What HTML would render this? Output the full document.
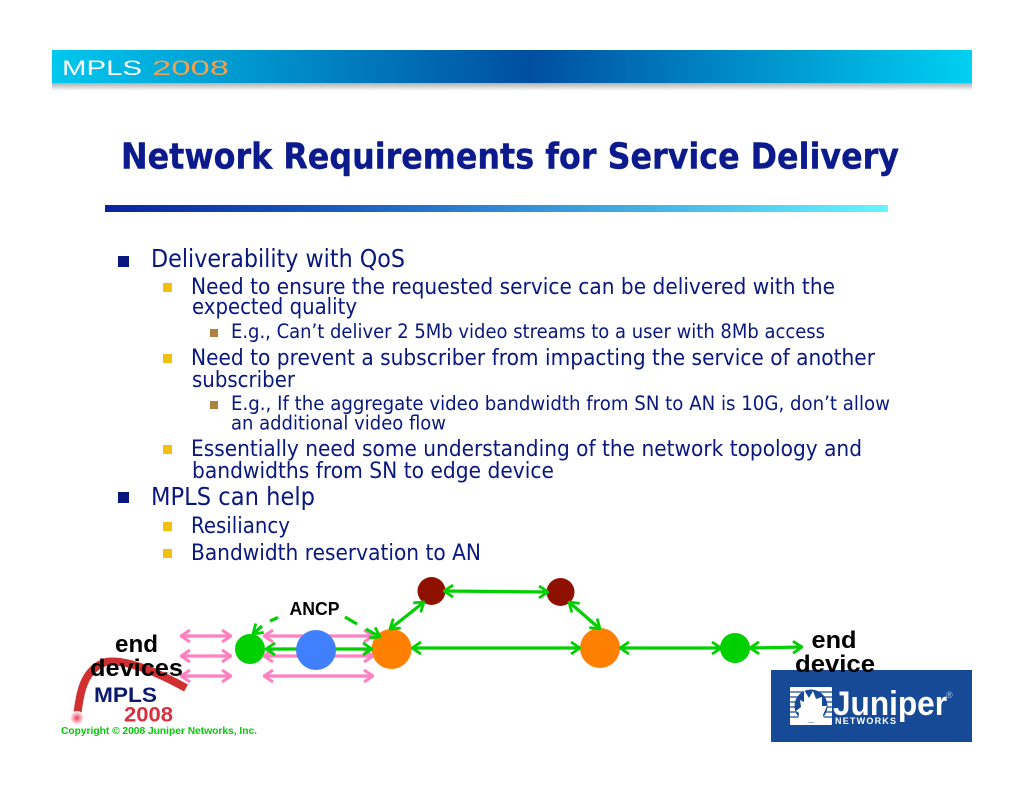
<!DOCTYPE html>
<html><head><meta charset="utf-8"><style>
html,body{margin:0;padding:0;background:#fff}
svg{display:block;filter:blur(.3px)}
.b{font-family:"DejaVu Sans",sans-serif;fill:#08187e}
.a{font-family:"Liberation Sans",sans-serif;font-weight:bold;fill:#000}
</style></head><body>
<svg width="1024" height="791" viewBox="0 0 1024 791" xmlns="http://www.w3.org/2000/svg">
<defs>
<linearGradient id="hd" x1="0" x2="1" y1="0" y2="0"><stop offset="0" stop-color="#00c8ef"/><stop offset=".52" stop-color="#004f9f"/><stop offset="1" stop-color="#00d0f2"/></linearGradient>
<linearGradient id="rl" x1="0" x2="1" y1="0" y2="0"><stop offset="0" stop-color="#0a23a0"/><stop offset=".3" stop-color="#1a5cc0"/><stop offset="1" stop-color="#66f4ff"/></linearGradient>
<linearGradient id="sh" x1="0" x2="0" y1="0" y2="1"><stop offset="0" stop-color="#b0b0b0"/><stop offset="1" stop-color="#fff"/></linearGradient>
<radialGradient id="dot"><stop offset="0" stop-color="#e8405a"/><stop offset="1" stop-color="#fff"/></radialGradient>
<marker id="g" viewBox="0 0 12 14" refX="11" refY="7" markerWidth="12" markerHeight="14" markerUnits="userSpaceOnUse" orient="auto-start-reverse"><path d="M2 1L11 7L2 13" fill="none" stroke="#00d000" stroke-width="2.8"/></marker>
<marker id="p" viewBox="0 0 12 14" refX="11" refY="7" markerWidth="12" markerHeight="14" markerUnits="userSpaceOnUse" orient="auto-start-reverse"><path d="M2 1L11 7L2 13" fill="none" stroke="#ff80c0" stroke-width="3"/></marker>
</defs>

<rect x="52" y="83" width="920" height="8" fill="url(#sh)"/>
<rect x="52" y="50" width="920" height="33" fill="url(#hd)"/>
<text x="62" y="75" font-family="Liberation Sans,sans-serif" font-size="21" fill="#fff" textLength="80" lengthAdjust="spacingAndGlyphs">MPLS</text>
<text x="152" y="75" font-family="Liberation Sans,sans-serif" font-size="21" fill="#f0a050" textLength="77" lengthAdjust="spacingAndGlyphs">2008</text>

<text x="121" y="168.500" class="b" font-size="36" font-weight="bold" textLength="778" lengthAdjust="spacingAndGlyphs" style="fill:#0b1a8c;stroke:#0b1a8c;stroke-width:.4">Network Requirements for Service Delivery</text>
<rect x="105" y="205" width="783" height="7" fill="url(#rl)"/>

<g fill="#08187e"><rect x="118" y="256" width="11" height="11"/><rect x="118" y="492" width="11" height="11"/></g>
<g fill="#f2c010"><rect x="163" y="283" width="9" height="9"/><rect x="163" y="354" width="9" height="9"/><rect x="163" y="445" width="9" height="9"/><rect x="163" y="522" width="9" height="9"/><rect x="163" y="549" width="9" height="9"/></g>
<g fill="#b08040"><rect x="210" y="329" width="8" height="8"/><rect x="210" y="401" width="8" height="8"/></g>

<g>
<text class="b" x="151" y="267" font-size="24.500" textLength="254" lengthAdjust="spacingAndGlyphs">Deliverability with QoS</text>
<text class="b" x="191" y="294" font-size="22.500" textLength="644" lengthAdjust="spacingAndGlyphs">Need to ensure the requested service can be delivered with the</text>
<text class="b" x="192" y="314" font-size="22.500" textLength="165" lengthAdjust="spacingAndGlyphs">expected quality</text>
<text class="b" x="231" y="338" font-size="19.500" textLength="594" lengthAdjust="spacingAndGlyphs">E.g., Can’t deliver 2 5Mb video streams to a user with 8Mb access</text>
<text class="b" x="191" y="365" font-size="22.500" textLength="684" lengthAdjust="spacingAndGlyphs">Need to prevent a subscriber from impacting the service of another</text>
<text class="b" x="192" y="387" font-size="22.500" textLength="103" lengthAdjust="spacingAndGlyphs">subscriber</text>
<text class="b" x="231" y="410" font-size="19.500" textLength="659" lengthAdjust="spacingAndGlyphs">E.g., If the aggregate video bandwidth from SN to AN is 10G, don’t allow</text>
<text class="b" x="231" y="429.500" font-size="19.500" textLength="215" lengthAdjust="spacingAndGlyphs">an additional video flow</text>
<text class="b" x="191" y="456" font-size="22.500" textLength="671" lengthAdjust="spacingAndGlyphs">Essentially need some understanding of the network topology and</text>
<text class="b" x="192" y="478" font-size="22.500" textLength="362" lengthAdjust="spacingAndGlyphs">bandwidths from SN to edge device</text>
<text class="b" x="151" y="505" font-size="24.500" textLength="164" lengthAdjust="spacingAndGlyphs">MPLS can help</text>
<text class="b" x="191" y="533" font-size="22.500" textLength="99" lengthAdjust="spacingAndGlyphs">Resiliancy</text>
<text class="b" x="191" y="560" font-size="22.500" textLength="290" lengthAdjust="spacingAndGlyphs">Bandwidth reservation to AN</text>
</g>

<path d="M77.500 713C80 692 84 669 106 662C125 659 155 671 186 688" fill="none" stroke="#d03030" stroke-width="8"/>
<circle cx="77" cy="718" r="7" fill="url(#dot)"/>
<text x="94" y="702" font-family="Liberation Sans,sans-serif" font-weight="bold" font-size="21.500" fill="#0a1a70" textLength="63" lengthAdjust="spacingAndGlyphs">MPLS</text>
<text x="124" y="721.500" font-family="Liberation Sans,sans-serif" font-weight="bold" font-size="21.500" fill="#d83040" textLength="49" lengthAdjust="spacingAndGlyphs">2008</text>
<text x="61" y="734" font-family="Liberation Sans,sans-serif" font-weight="bold" font-size="10.500" fill="#00cc00" textLength="196" lengthAdjust="spacingAndGlyphs">Copyright © 2008 Juniper Networks, Inc.</text>

<circle cx="250" cy="649" r="15" fill="#00d000"/>
<circle cx="391.500" cy="649" r="20" fill="#ff8000"/>
<ellipse cx="431.500" cy="591" rx="14" ry="14" fill="#901000"/>
<ellipse cx="560.500" cy="592" rx="14" ry="14" fill="#901000"/>
<ellipse cx="600" cy="648" rx="20" ry="20" fill="#ff8000"/>
<ellipse cx="735" cy="648" rx="15" ry="15" fill="#00d000"/>

<g stroke="#ff80c0" stroke-width="3.200" fill="none">
<line x1="181" y1="636" x2="231" y2="636" marker-start="url(#p)" marker-end="url(#p)"/>
<line x1="181" y1="656" x2="231" y2="656" marker-start="url(#p)" marker-end="url(#p)"/>
<line x1="181" y1="676" x2="231" y2="676" marker-start="url(#p)" marker-end="url(#p)"/>
<line x1="264" y1="636" x2="373" y2="636" marker-start="url(#p)" marker-end="url(#p)"/>
<line x1="264" y1="656" x2="373" y2="656" marker-start="url(#p)" marker-end="url(#p)"/>
<line x1="264" y1="676" x2="373" y2="676" marker-start="url(#p)" marker-end="url(#p)"/>
</g>

<g stroke="#00d000" stroke-width="3.200" fill="none">
<line x1="266" y1="649" x2="372" y2="649" marker-start="url(#g)" marker-end="url(#g)"/>
<line x1="412" y1="648" x2="580" y2="648" marker-start="url(#g)" marker-end="url(#g)"/>
<line x1="620" y1="648" x2="721" y2="648" marker-start="url(#g)" marker-end="url(#g)"/>
<line x1="750" y1="648" x2="802" y2="647" marker-start="url(#g)" marker-end="url(#g)"/>
<line x1="444" y1="591" x2="548" y2="592" marker-start="url(#g)" marker-end="url(#g)"/>
<line x1="390" y1="629" x2="424" y2="602" marker-start="url(#g)" marker-end="url(#g)"/>
<line x1="569" y1="602" x2="600" y2="629" marker-start="url(#g)" marker-end="url(#g)"/>
<line x1="278" y1="617.500" x2="270" y2="621"/>
<line x1="262" y1="626" x2="253" y2="634" marker-end="url(#g)"/>
<line x1="345" y1="617" x2="357" y2="624"/>
<line x1="366" y1="629" x2="380" y2="637" marker-end="url(#g)"/>
</g>

<circle cx="316" cy="650" r="20" fill="#4080ff"/>

<rect x="771" y="670" width="201" height="72" fill="#174a96"/>
<g fill="#fff">
<rect x="790" y="687" width="42" height="38" rx="1"/>
<path d="M790 692H832M790 697H832M790 702H832M790 707H832M790 712H832M790 717H832" stroke="#174a96" stroke-width="1.200"/>
<circle cx="811" cy="706" r="16.500" fill="#174a96"/>
<path d="M804 690L809 698L813 691L816 699L822 697L822 706L827 706L823 715L825 722H798L799 713L796 711L801 707L800 700L804 702Z"/>
<text x="833" y="715" font-family="Liberation Sans,sans-serif" font-weight="bold" font-size="34" textLength="114" lengthAdjust="spacingAndGlyphs">Juniper</text>
<text x="835" y="724" font-family="Liberation Sans,sans-serif" font-weight="bold" font-size="9" textLength="61" lengthAdjust="spacing">NETWORKS</text>
<text x="946" y="698" font-family="Liberation Sans,sans-serif" font-size="9" fill="#b8c8e0">®</text>
</g>

<text class="a" x="289.500" y="615" font-size="18" textLength="50" lengthAdjust="spacingAndGlyphs">ANCP</text>
<text class="a" x="115" y="652" font-size="24" textLength="43" lengthAdjust="spacingAndGlyphs">end</text>
<text class="a" x="90" y="676" font-size="24" textLength="93" lengthAdjust="spacingAndGlyphs">devices</text>
<text class="a" x="811.500" y="648" font-size="24" textLength="45" lengthAdjust="spacingAndGlyphs">end</text>
<text class="a" x="795" y="672" font-size="24" textLength="80" lengthAdjust="spacingAndGlyphs">device</text>
</svg>
</body></html>
